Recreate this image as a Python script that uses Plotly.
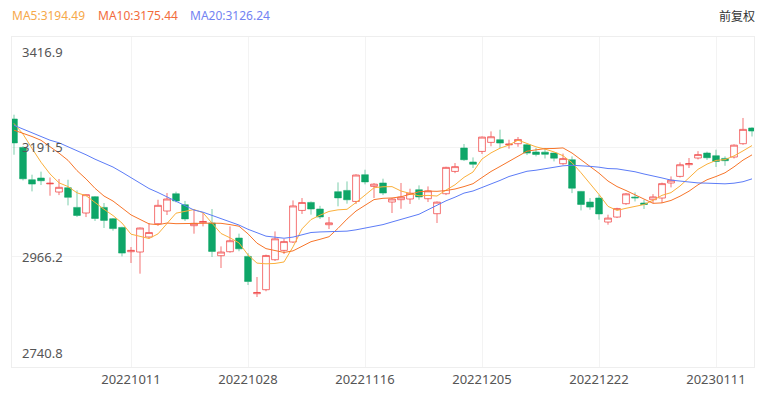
import plotly.graph_objects as go

# ---------------- data (SSE composite, daily) ----------------
dates = [
    "20220915", "20220916", "20220919", "20220920", "20220921", "20220922", "20220923",
    "20220926", "20220927", "20220928", "20220929", "20220930",
    "20221010", "20221011", "20221012", "20221013", "20221014", "20221017", "20221018",
    "20221019", "20221020", "20221021", "20221024", "20221025", "20221026", "20221027",
    "20221028", "20221031",
    "20221101", "20221102", "20221103", "20221104", "20221107", "20221108", "20221109",
    "20221110", "20221111", "20221114", "20221115", "20221116", "20221117", "20221118",
    "20221121", "20221122", "20221123", "20221124", "20221125", "20221128", "20221129",
    "20221130",
    "20221201", "20221202", "20221205", "20221206", "20221207", "20221208", "20221209",
    "20221212", "20221213", "20221214", "20221215", "20221216", "20221219", "20221220",
    "20221221", "20221222", "20221223", "20221226", "20221227", "20221228", "20221229",
    "20221230",
    "20230103", "20230104", "20230105", "20230106", "20230109", "20230110", "20230111",
    "20230112", "20230113", "20230116", "20230117",
]
opens = [
    3248.9, 3190.7, 3124.5, 3128.0, 3116.0, 3099.3, 3108.1, 3067.8, 3056.3, 3089.7,
    3067.8, 3044.6, 3026.8, 2977.0, 2976.4, 3007.2, 3034.4, 3060.4, 3095.8, 3073.3,
    3030.3, 3036.5, 3035.8, 2968.8, 2977.0, 3005.0, 2967.4, 2891.0, 2899.2, 2960.6,
    2979.7, 2996.9, 3061.6, 3078.0, 3064.5, 3032.3, 3100.0, 3102.6, 3080.0, 3134.8,
    3110.8, 3117.8, 3078.8, 3083.6, 3085.0, 3104.0, 3085.6, 3054.9, 3095.8, 3141.5,
    3189.5, 3160.8, 3182.5, 3201.0, 3206.5, 3196.0, 3198.3, 3196.2, 3181.3, 3181.0,
    3179.2, 3157.3, 3165.5, 3100.6, 3078.8, 3087.0, 3037.8, 3048.0, 3075.4, 3089.0,
    3076.8, 3083.5, 3087.0, 3117.8, 3131.3, 3155.3, 3169.0, 3179.2, 3173.7, 3168.2,
    3171.0, 3198.3, 3230.5,
]
highs = [
    3257.7, 3193.0, 3134.8, 3141.0, 3129.0, 3126.0, 3124.5, 3102.6, 3094.6, 3091.0,
    3076.8, 3046.0, 3028.0, 2986.6, 3026.5, 3035.8, 3083.5, 3097.3, 3100.0, 3081.0,
    3064.5, 3056.3, 3064.5, 2987.9, 3028.9, 3014.0, 2974.0, 2925.2, 2971.0, 3018.6,
    3003.0, 3082.1, 3087.0, 3080.0, 3071.0, 3048.1, 3119.0, 3121.0, 3135.5, 3145.0,
    3117.5, 3126.6, 3087.0, 3117.8, 3106.0, 3112.9, 3110.8, 3080.0, 3151.0, 3158.7,
    3197.7, 3170.2, 3213.0, 3223.5, 3227.0, 3206.5, 3212.0, 3197.5, 3189.5, 3189.5,
    3180.0, 3178.0, 3172.3, 3101.5, 3087.0, 3093.8, 3052.8, 3067.0, 3097.0, 3098.5,
    3083.5, 3095.0, 3118.5, 3131.3, 3160.0, 3169.0, 3183.0, 3182.0, 3186.0, 3172.3,
    3197.0, 3251.0, 3232.0,
]
lows = [
    3175.7, 3123.0, 3100.6, 3113.6, 3091.7, 3093.0, 3071.9, 3048.0, 3048.0, 3040.0,
    3025.6, 3020.0, 2967.4, 2953.9, 2932.0, 3004.0, 3030.0, 3052.2, 3078.0, 3040.0,
    3013.9, 3028.9, 2966.2, 2943.6, 2975.0, 2978.0, 2908.8, 2884.2, 2896.0, 2958.0,
    2972.3, 2995.0, 3054.3, 3053.0, 3044.0, 3023.5, 3070.0, 3075.4, 3074.7, 3115.0,
    3087.0, 3093.0, 3056.3, 3065.0, 3074.8, 3083.6, 3078.8, 3035.8, 3093.0, 3138.0,
    3163.0, 3148.5, 3177.2, 3193.0, 3189.5, 3188.0, 3192.0, 3175.0, 3172.3, 3168.0,
    3162.0, 3155.0, 3097.0, 3061.6, 3063.0, 3042.6, 3032.3, 3046.0, 3073.0, 3080.0,
    3064.5, 3076.8, 3076.8, 3108.8, 3129.0, 3148.5, 3166.0, 3165.0, 3150.6, 3153.0,
    3168.0, 3196.0, 3213.0,
]
closes = [
    3199.92, 3126.40, 3115.60, 3122.41, 3117.18, 3108.91, 3088.37, 3051.23, 3093.86, 3045.07,
    3041.20, 3024.39, 2974.15, 2979.79, 3025.51, 3016.36, 3071.99, 3084.94, 3080.96, 3044.17,
    3035.05, 3038.93, 2977.56, 2976.28, 2999.50, 2982.90, 2915.93, 2893.48, 2969.20, 3003.37,
    2997.81, 3070.80, 3077.82, 3064.49, 3048.17, 3036.13, 3087.29, 3083.40, 3134.08, 3119.98,
    3115.43, 3097.24, 3085.04, 3088.94, 3096.91, 3089.31, 3101.69, 3078.55, 3149.75, 3151.34,
    3165.47, 3156.14, 3211.81, 3212.53, 3199.62, 3197.35, 3206.95, 3179.04, 3176.33, 3176.53,
    3168.65, 3167.86, 3107.12, 3073.77, 3068.41, 3054.43, 3045.87, 3065.56, 3095.57, 3087.40,
    3073.70, 3089.26, 3116.51, 3123.52, 3155.22, 3157.64, 3176.08, 3169.51, 3161.84, 3163.45,
    3195.31, 3227.59, 3224.24,
]
# closes of the 19 sessions before the first candle (needed for the moving averages)
prior_closes = [
    3277.88, 3258.08, 3277.79, 3276.22, 3215.20, 3246.25, 3236.22, 3240.73, 3227.22, 3202.14,
    3184.98, 3186.48, 3199.91, 3243.45, 3246.29, 3235.59, 3262.05, 3263.80, 3237.54,
]
tick_labels = ["20221011", "20221028", "20221116", "20221205", "20221222", "20230111"]
y_ticks = [2740.8, 2966.2, 3191.5, 3416.9]
ma_periods = [5, 10, 20]
ma_line_colors = ["#fbb03b", "#f7752a", "#5c7cf7"]
ma_text_colors = ["#f6a84a", "#f26c3c", "#7383f2"]


def moving_average(n):
    series = prior_closes + closes
    off = len(prior_closes)
    return [sum(series[off + i - n + 1: off + i + 1]) / n for i in range(len(closes))]


# ---------------- geometry helpers (pixels -> paper) ----------------
W, H = 765, 395
ML, MR, MT, MB = 12, 11, 37, 28
PW, PH = W - ML - MR, H - MT - MB


def px_x(p):
    return (p - ML) / PW


def px_y(p):
    return (H - MB - p) / PH


fig = go.Figure()

fig.add_trace(go.Candlestick(
    x=dates, open=opens, high=highs, low=lows, close=closes,
    increasing=dict(line=dict(color="rgba(240,62,62,0.72)", width=1), fillcolor="#ffffff"),
    decreasing=dict(line=dict(color="rgba(14,166,104,0.55)", width=1), fillcolor="#0ea668"),
    whiskerwidth=0, showlegend=False, hoverinfo="x+y",
))

mas = {}
for n, col in zip(ma_periods, ma_line_colors):
    mas[n] = moving_average(n)
    fig.add_trace(go.Scatter(
        x=dates, y=mas[n], mode="lines", line=dict(color=col, width=1),
        showlegend=False, hoverinfo="skip",
    ))

annotations = []
# legend-like header
legend_left_px = [12, 98, 190]
for n, col, lx in zip(ma_periods, ma_text_colors, legend_left_px):
    annotations.append(dict(
        text=f"MA{n}:{mas[n][-1]:.2f}", xref="paper", yref="paper",
        x=px_x(lx), y=px_y(16), xanchor="left", yanchor="middle", showarrow=False,
        font=dict(family="Noto Sans, sans-serif", size=12, color=col),
        borderpad=0, borderwidth=0,
    ))
annotations.append(dict(
    text="前复权", xref="paper", yref="paper", x=px_x(755), y=px_y(16),
    xanchor="right", yanchor="middle", showarrow=False,
    font=dict(family="Noto Sans CJK SC, sans-serif", size=12, color="#333333"),
    borderpad=0, borderwidth=0,
))
# y-axis labels drawn inside the plot
for v in y_ticks:
    shift = 0
    if v == max(y_ticks):
        shift = -15
    elif v == min(y_ticks):
        shift = 14
    annotations.append(dict(
        text=f"{v:.1f}", xref="paper", yref="y", x=px_x(21.5), y=v,
        xanchor="left", yanchor="middle", yshift=shift, showarrow=False,
        font=dict(family="Noto Sans, sans-serif", size=13, color="#555555"),
        borderpad=0, borderwidth=0,
    ))

fig.update_layout(
    width=W, height=H, margin=dict(l=ML, r=MR, t=MT, b=MB, autoexpand=False),
    paper_bgcolor="#ffffff", plot_bgcolor="#ffffff",
    boxgap=0.25, boxgroupgap=0.0,
    showlegend=False, annotations=annotations,
    hovermode="x",
)
fig.update_xaxes(
    type="category", range=[-0.222, len(dates) - 1 + 0.222],
    tickmode="array", tickvals=tick_labels, ticktext=tick_labels,
    showgrid=True, gridcolor="#f3f3f3", gridwidth=1,
    showline=True, linecolor="#eeeeee", linewidth=1, mirror=True,
    ticks="", automargin=False,
    tickfont=dict(family="Noto Sans, sans-serif", size=13, color="#555555"),
    zeroline=False, rangeslider=dict(visible=False), fixedrange=True,
)
fig.update_yaxes(
    range=[min(y_ticks), max(y_ticks)], tickmode="array", tickvals=y_ticks,
    showticklabels=False, showgrid=True, gridcolor="#f3f3f3", gridwidth=1,
    showline=True, linecolor="#eeeeee", linewidth=1, mirror=True,
    zeroline=False, fixedrange=True, automargin=False,
)

fig.write_html(
    "out.html",
    config={"displayModeBar": False},
    post_script="document.body.style.margin='0';document.body.style.padding='0';",
)
